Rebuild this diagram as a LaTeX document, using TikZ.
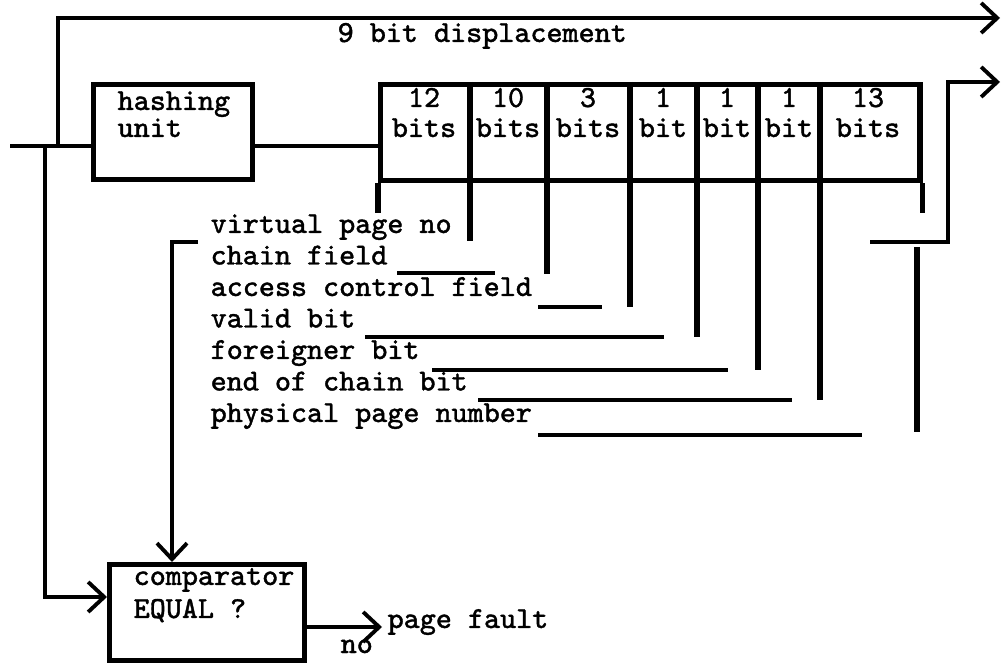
\documentclass[tikz,border=0pt]{standalone}
\usepackage{fontspec}
\newfontfamily\typew[FakeBold=1.2]{Latin Modern Mono}
\usetikzlibrary{arrows.meta}
\tikzset{
  txt/.style={font=\typew\fontsize{8.7}{10}\selectfont,inner sep=0pt},
  unit/.style={draw,line width=1.5pt,inner sep=0pt,anchor=north west},
  wire/.style={line width=1.1pt},
  lead/.style={line width=1.5pt},
  barb/.style={-{Straight Barb[length=1.6mm,width=3mm,line width=1.1pt]}}
}
\begin{document}
\begin{tikzpicture}[x=0.01cm,y=-0.01cm]
\useasboundingbox (0,0) rectangle (1001,665);
% units
\node[unit,minimum width=1.59cm,minimum height=0.95cm] (hash) at (91,82) {};
\node[unit,minimum width=5.39cm,minimum height=0.96cm] (rec) at (378,82) {};
\node[unit,minimum width=1.95cm,minimum height=0.96cm] (cmp) at (107,562) {};
\node[txt,anchor=base west] (hash1) at (117,110) {hashing};
\node[txt,anchor=base west] (hash2) at (117,137) {unit};
\node[txt,anchor=base west] (cmp1) at (133,585) {comparator};
\node[txt,anchor=base west] (cmp2) at (133,618) {EQUAL ?};
% fields of the entry
\foreach \c/\n/\u [count=\i] in {424/12/bits,508/10/bits,588/3/bits,663/1/bit,727/1/bit,789/1/bit,868/13/bits}{
  \node[txt,anchor=base] (num\i) at (\c,107) {\n};
  \node[txt,anchor=base] (size\i) at (\c,137) {\u};
}
\foreach \x/\y in {470/241,547/274,630/307,697/337,758/370,820/400}
  \draw[lead] (\x,82)--(\x,\y);
\draw[lead] (rec.south west)--++(0,30);
\draw[lead] (rec.south east)--++(0,30);
% field names
\foreach \t [count=\i] in {virtual page no,chain field,access control field,valid bit,foreigner bit,end of chain bit,physical page number}
  \node[txt,anchor=base west] (name\i) at (210,{233+31.5*(\i-1)}) {\t};
\foreach \a/\b/\y in {397/495/273,538/602/307,365/664/337,432/728/370,478/792/400,538/862/435}
  \draw[wire] (\a,\y)--(\b,\y);
\draw[lead] (917,247)--(917,432);
% address in
\coordinate (in) at (10,146);
\coordinate (tapd) at (58,146);
\coordinate (tapv) at (45,146);
\coordinate (dispout) at (1000,18);
\coordinate (ppnout) at (1000,82);
\coordinate (ppnturn) at (870,242);
\coordinate (vturn) at (198,242);
\draw[wire] (in)--(in-|hash.west);
\draw[wire] (in-|hash.east)--(in-|rec.west);
\draw[wire,barb] (tapd)|-(dispout);
\node[txt,anchor=base west] (disp) at (337,42) {9 bit displacement};
\draw[wire,barb] (ppnturn)-|(948,82)--(ppnout);
\draw[wire,barb] (tapv)|-(cmp.west|-0,597);
\draw[wire,barb] (vturn)-|(cmp.north-|172,0);
% result
\node[txt,anchor=base west] (fault) at (387,628) {page fault};
\node[txt,anchor=base west] (no) at (340,653) {no};
\draw[wire,barb,shorten >=0.5mm] (cmp.east|-0,627)--(fault.west|-0,627);
\end{tikzpicture}
\end{document}
